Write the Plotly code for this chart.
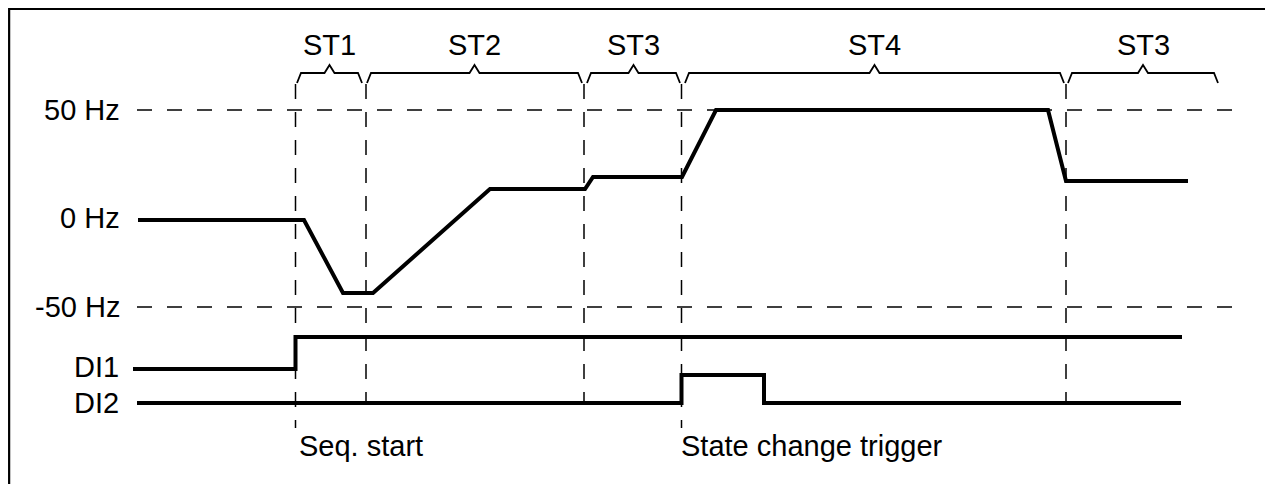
import plotly.graph_objects as go

# time axis in schematic units, level axis in schematic units (0 = 0 Hz line)
freq_t = [0, 16.6, 20.5, 23.5, 35.2, 44.7, 45.5, 54.4, 57.8, 91.0, 92.8, 105.0]
freq_lvl = [0, 0, -7.3, -7.3, 3.1, 3.1, 4.3, 4.3, 11.0, 11.0, 3.9, 3.9]

di1_t = [-0.5, 15.75, 15.75, 104.4]
di1_lvl = [-14.9, -14.9, -11.7, -11.7]

di2_t = [-0.1, 54.35, 54.35, 62.6, 62.6, 104.3]
di2_lvl = [-18.3, -18.3, -15.5, -15.5, -18.3, -18.3]

hz_labels = ["50 Hz", "0 Hz", "-50 Hz"]
hz_lvl = [11.0, 0.2, -8.7]
ref_lines = [11.0, -8.7]          # dashed reference lines
ref_t = [-0.1, 109.4]

di_labels = ["DI1", "DI2"]
di_label_lvl = [-14.7, -18.3]

state_names = ["ST1", "ST2", "ST3", "ST4", "ST3"]
state_start = [15.9, 22.9, 44.9, 54.7, 93.0]
state_end = [22.4, 44.4, 54.2, 92.6, 108.0]

change_t = [15.75, 22.8, 44.6, 54.35, 92.8]
change_bottom = [-20.8, -18.2, -18.2, -20.8, -18.2]
change_top = 13.6

events = ["Seq. start", "State change trigger"]
event_t = [15.9, 54.1]
event_lvl = -22.6

FONT = "Liberation Sans, Arial, sans-serif"
FS = 29

fig = go.Figure()

# dashed guides
for lvl in ref_lines:
    fig.add_trace(go.Scatter(x=ref_t, y=[lvl, lvl], mode="lines",
                             line=dict(color="black", width=1.5, dash="15px,15px")))
for t, b in zip(change_t, change_bottom):
    fig.add_trace(go.Scatter(x=[t, t], y=[change_top, b], mode="lines",
                             line=dict(color="black", width=1.5, dash="15px,13px")))

# signals
fig.add_trace(go.Scatter(x=freq_t, y=freq_lvl, mode="lines",
                         line=dict(color="black", width=4)))
fig.add_trace(go.Scatter(x=di1_t, y=di1_lvl, mode="lines",
                         line=dict(color="black", width=4)))
fig.add_trace(go.Scatter(x=di2_t, y=di2_lvl, mode="lines",
                         line=dict(color="black", width=4)))

# state braces
for name, s, e in zip(state_names, state_start, state_end):
    m = (s + e) / 2
    bx = [s, s + 0.4, m - 0.5, m, m + 0.5, e - 0.4, e]
    by = [13.7, 14.7, 14.7, 15.5, 14.7, 14.7, 13.7]
    fig.add_trace(go.Scatter(x=bx, y=by, mode="lines",
                             line=dict(color="black", width=1.8)))
    fig.add_annotation(x=m, y=17.5, text=name, showarrow=False,
                       font=dict(size=FS, color="black", family=FONT),
                       xanchor="center", yanchor="middle")

for txt, lvl in zip(hz_labels, hz_lvl):
    fig.add_annotation(x=-1.6, y=lvl, text=txt, showarrow=False,
                       font=dict(size=FS, color="black", family=FONT),
                       xanchor="right", yanchor="middle")
for txt, lvl in zip(di_labels, di_label_lvl):
    fig.add_annotation(x=-1.7, y=lvl, text=txt, showarrow=False,
                       font=dict(size=FS, color="black", family=FONT),
                       xanchor="right", yanchor="middle")
for txt, t in zip(events, event_t):
    fig.add_annotation(x=t, y=event_lvl, text=txt, showarrow=False,
                       font=dict(size=FS, color="black", family=FONT),
                       xanchor="left", yanchor="middle")

# frame (open at the bottom)
fig.add_shape(type="path", xref="paper", yref="paper",
              path="M 0.0009,-0.05 L 0.0009,0.998 L 0.996,0.998 L 0.996,-0.05",
              line=dict(color="black", width=2.2))

# page body has an 8px margin, so the figure is sized to fit the window
fig.update_layout(
    width=1265, height=476,
    margin=dict(l=0, r=0, t=0, b=0),
    paper_bgcolor="white", plot_bgcolor="white",
    showlegend=False,
    xaxis=dict(range=[-13.0, 113.5], visible=False),
    yaxis=dict(range=[-26.4, 21.2], visible=False),
)

fig.write_html("out.html")
